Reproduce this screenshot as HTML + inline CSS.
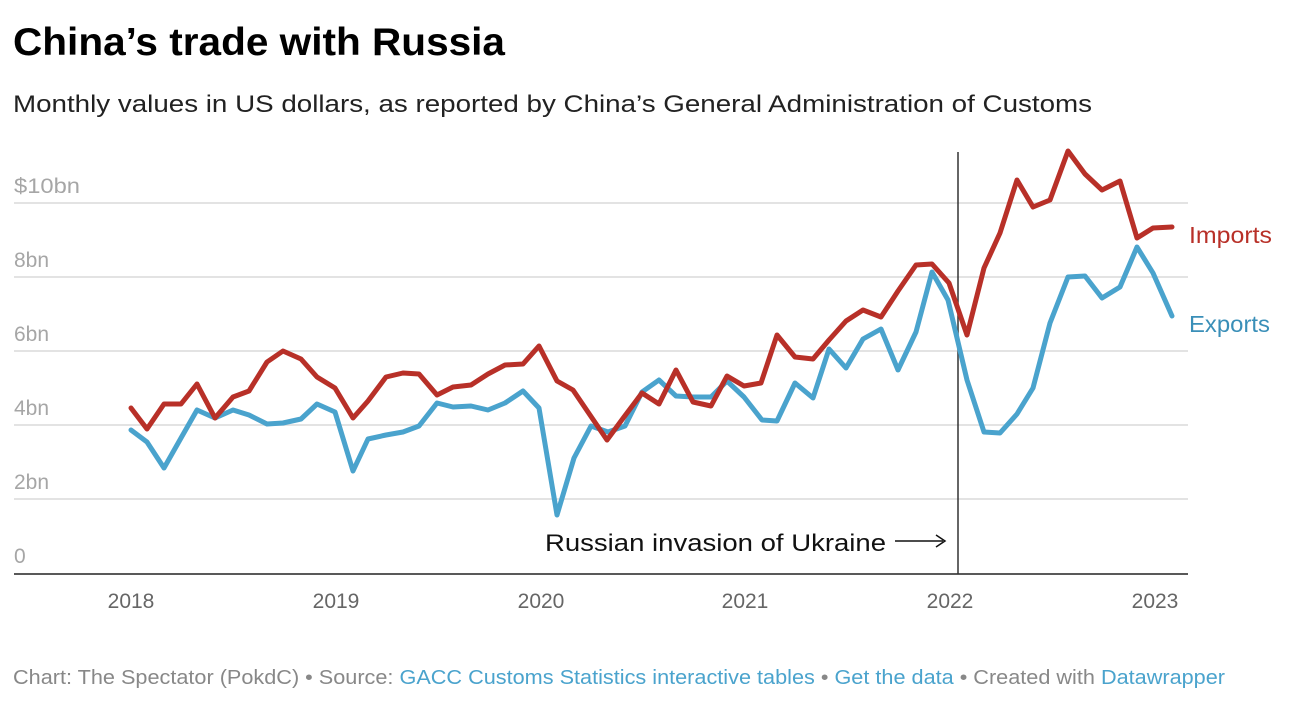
<!DOCTYPE html>
<html><head><meta charset="utf-8"><style>
body{margin:0;background:#fff;width:1302px;height:718px;overflow:hidden;font-family:"Liberation Sans",Arial,sans-serif}
</style></head><body>
<svg width="1302" height="718" viewBox="0 0 1302 718" xmlns="http://www.w3.org/2000/svg" font-family="Liberation Sans, Arial, sans-serif">
<text x="13" y="55" font-size="39" font-weight="bold" fill="#000" textLength="492" lengthAdjust="spacingAndGlyphs">China’s trade with Russia</text>
<text x="13" y="112" font-size="24" fill="#222" textLength="1079" lengthAdjust="spacingAndGlyphs">Monthly values in US dollars, as reported by China’s General Administration of Customs</text>
<g stroke="#e3e3e3" stroke-width="2">
<line x1="14" x2="1188" y1="203" y2="203"/>
<line x1="14" x2="1188" y1="277" y2="277"/>
<line x1="14" x2="1188" y1="351" y2="351"/>
<line x1="14" x2="1188" y1="425" y2="425"/>
<line x1="14" x2="1188" y1="499" y2="499"/>
</g>
<line x1="14" x2="1188" y1="574" y2="574" stroke="#222" stroke-width="1.5"/>
<g font-size="21" fill="#a6a6a6">
<text x="14" y="193" textLength="66" lengthAdjust="spacingAndGlyphs">$10bn</text>
<text x="14" y="267">8bn</text>
<text x="14" y="341">6bn</text>
<text x="14" y="415">4bn</text>
<text x="14" y="489">2bn</text>
<text x="14" y="563">0</text>
</g>
<g font-size="21" fill="#666" text-anchor="middle">
<text x="131" y="608">2018</text>
<text x="336" y="608">2019</text>
<text x="541" y="608">2020</text>
<text x="745" y="608">2021</text>
<text x="950" y="608">2022</text>
<text x="1155" y="608">2023</text>
</g>
<line x1="958" x2="958" y1="152" y2="574" stroke="#333" stroke-width="1.5"/>
<text x="545" y="551" font-size="24" fill="#111" textLength="341" lengthAdjust="spacingAndGlyphs">Russian invasion of Ukraine</text>
<line x1="895" x2="943" y1="541" y2="541" stroke="#111" stroke-width="1.5"/>
<polyline points="936,535 945,541 936,547" fill="none" stroke="#111" stroke-width="1.5"/>
<polyline fill="none" stroke="#4aa3cd" stroke-width="5" stroke-linejoin="round" stroke-linecap="round" points="131,430 147,442 164,468 181,438 197,410 215,418 233,410 249,415 267,424 283,423 301,419 317,404 335,412 353,471 368,439 386,435 403,432 419,426 437,403 453,407 471,406 488,410 505,403 523,391 539,408 557,515 574,458 591,426 608,432 625,426 642,392 659,380 676,396 693,397 711,397 727,381 744,397 762,420 777,421 795,383 813,398 829,349 846,368 863,339 881,329 898,370 916,332 932,272 948,300 967,380 984,432 1000,433 1017,414 1033,388 1050,323 1068,277 1085,276 1102,298 1120,287 1137,247 1153,273 1172,316"/>
<polyline fill="none" stroke="#b83028" stroke-width="5" stroke-linejoin="round" stroke-linecap="round" points="131,408 147,429 164,404 181,404 197,384 215,418 233,397 249,391 267,362 283,351 301,359 317,377 335,388 353,418 368,401 386,377 403,373 419,374 437,395 453,387 471,385 488,374 505,365 523,364 539,346 557,381 573,390 590,415 607,440 624,417 642,393 659,404 676,370 693,402 711,406 727,376 744,386 761,383 777,335 795,357 813,359 829,340 846,321 863,310 881,317 898,291 916,265 932,264 949,283 967,335 984,268 1000,233 1017,180 1033,207 1050,200 1068,151 1085,174 1102,190 1120,181 1137,238 1153,228 1172,227"/>
<text x="1189" y="243" font-size="23" fill="#b83028" textLength="83" lengthAdjust="spacingAndGlyphs">Imports</text>
<text x="1189" y="332" font-size="23" fill="#3a8fb8" textLength="81" lengthAdjust="spacingAndGlyphs">Exports</text>
<text x="13" y="684" font-size="20" fill="#888" textLength="1212" lengthAdjust="spacingAndGlyphs">Chart: The Spectator (PokdC) • Source: <tspan fill="#4aa3cd">GACC Customs Statistics interactive tables</tspan> • <tspan fill="#4aa3cd">Get the data</tspan> • Created with <tspan fill="#4aa3cd">Datawrapper</tspan></text>
</svg>
</body></html>
